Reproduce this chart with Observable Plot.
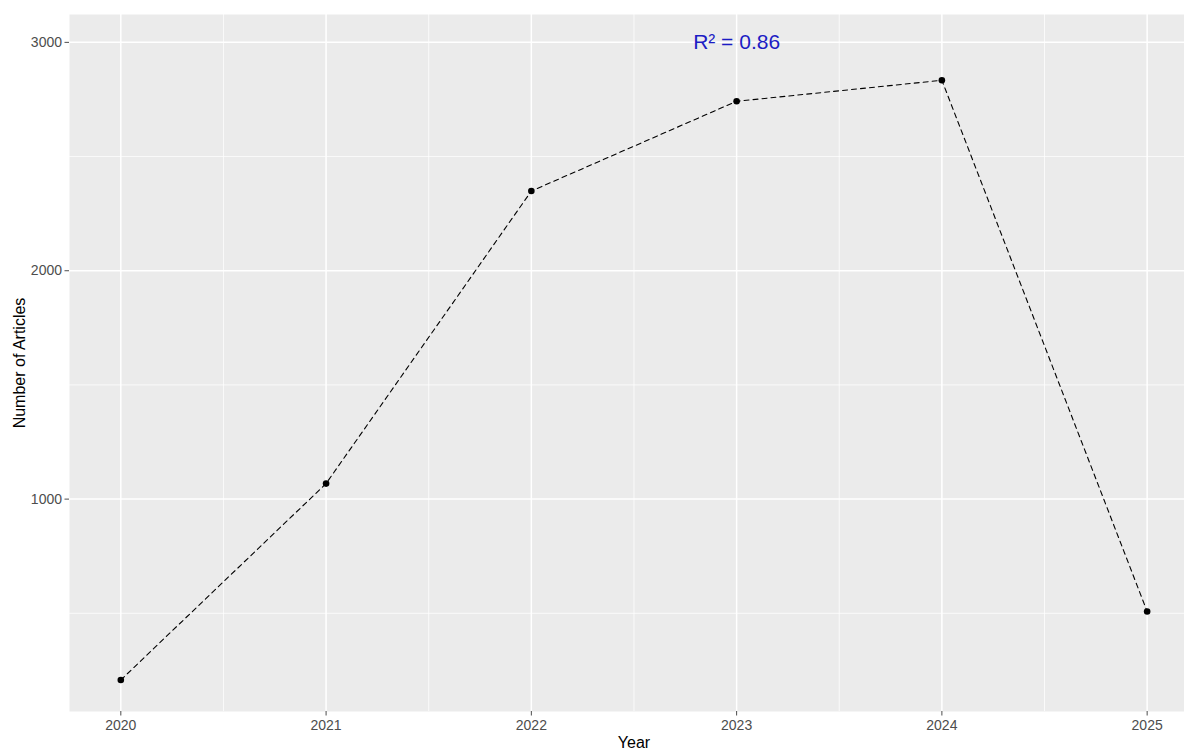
<!DOCTYPE html>
<html>
<head>
<meta charset="utf-8">
<script src="https://cdn.jsdelivr.net/npm/d3@7"></script>
<script src="https://cdn.jsdelivr.net/npm/@observablehq/plot@0.6"></script>
<style>
  html, body { margin: 0; padding: 0; background: #fff; overflow: hidden; }
  #chart svg { display: block; }
</style>
</head>
<body>
<div id="chart"></div>
<script>
const years = [2020, 2021, 2022, 2023, 2024, 2025];
const articles = [208, 1068, 2349, 2742, 2834, 508];
const xMajor = [2020, 2021, 2022, 2023, 2024, 2025];
const xMinor = [2020.5, 2021.5, 2022.5, 2023.5, 2024.5];
const yMajor = [1000, 2000, 3000];
const yMinor = [500, 1500, 2500];
const annotationText = ["R² = 0.86"];
const annotationX = [2023];
const annotationY = [3000];
const xTitle = ["Year"];
const yTitle = ["Number of Articles"];

const data = years.map((y, i) => ({year: y, n: articles[i]}));
const font = "'Liberation Sans', Arial, 'DejaVu Sans', sans-serif";

const chart = Plot.plot({
  width: 1184,
  height: 751,
  marginLeft: 69,
  marginRight: 0,
  marginTop: 14,
  marginBottom: 40,
  style: {fontFamily: font, background: "#ffffff"},
  x: {domain: [2019.75, 2025.182], label: null},
  y: {domain: [70, 3122], label: null},
  marks: [
    Plot.frame({fill: "#ebebeb", stroke: null}),
    Plot.ruleX(xMinor, {stroke: "#ffffff", strokeWidth: 0.75}),
    Plot.ruleY(yMinor, {stroke: "#ffffff", strokeWidth: 0.75}),
    Plot.ruleX(xMajor, {stroke: "#ffffff", strokeWidth: 1.5}),
    Plot.ruleY(yMajor, {stroke: "#ffffff", strokeWidth: 1.5}),
    Plot.axisX({ticks: xMajor, tickFormat: d => String(d), tickSize: 4.5, tickPadding: 4, fontSize: 14, color: "#4d4d4d", label: null}),
    Plot.axisY({ticks: yMajor, tickFormat: d => String(d), tickSize: 4.5, tickPadding: 3, fontSize: 14, color: "#4d4d4d", label: null}),
    Plot.line(data, {x: "year", y: "n", stroke: "#000000", strokeWidth: 1.1, strokeDasharray: "5,4"}),
    Plot.dot(data, {x: "year", y: "n", r: 3.3, fill: "#000000", stroke: null}),
    Plot.text(annotationText, {x: annotationX, y: annotationY, text: d => d, fill: "#1c1cc4", fontSize: 21, textAnchor: "middle", lineAnchor: "middle"}),
    Plot.text(xTitle, {x: [2022.5], frameAnchor: "bottom", dy: 31, text: d => d, fill: "#000000", fontSize: 16, textAnchor: "middle", lineAnchor: "middle"}),
    Plot.text(yTitle, {frameAnchor: "left", dx: -50, rotate: -90, text: d => d, fill: "#000000", fontSize: 16, textAnchor: "middle", lineAnchor: "middle"})
  ]
});
document.getElementById("chart").appendChild(chart);
</script>
</body>
</html>
